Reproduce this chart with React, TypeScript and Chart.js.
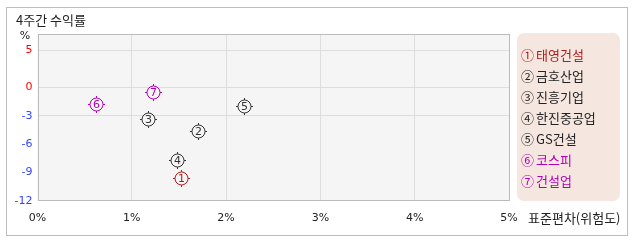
import React, { useEffect, useRef } from "react";
import { Chart, registerables } from "chart.js";

Chart.register(...registerables);

const title = "4주간 수익률";
const xAxisTitle = "표준편차(위험도)";
const names = ["태영건설", "금호산업", "진흥기업", "한진중공업", "GS건설", "코스피", "건설업"];
const marks = ["①", "②", "③", "④", "⑤", "⑥", "⑦"];
const numbers = ["1", "2", "3", "4", "5", "6", "7"];
const riskStdDev = [1.52, 1.7, 1.17, 1.48, 2.19, 0.62, 1.23];
const returns4w = [-9.6, -4.6, -3.3, -7.7, -2.0, -1.8, -0.45];
const xTickValues = [0, 1, 2, 3, 4, 5];
const xTickLabels = ["0%", "1%", "2%", "3%", "4%", "5%"];
const yTickValues = [5, 0, -3, -6, -9, -12];
const yTickLabels = ["5", "0", "-3", "-6", "-9", "-12"];
const yGridValues = [5, 0, -3];

const markColors = ["#b01c1c", "#333333", "#333333", "#333333", "#333333", "#b000b8", "#b000b8"];
const legendColors = ["#b01c1c", "#222222", "#222222", "#222222", "#222222", "#b000b8", "#b000b8"];
// the positive part of the original value axis is drawn compressed
const POS_SCALE = 0.785;
const mapY = (v: number) => (v > 0 ? v * POS_SCALE : v);

const FONT = '"DejaVu Sans", "Noto Sans CJK KR", sans-serif';
const KFONT = '"Noto Sans CJK KR", sans-serif';

const markerPlugin = {
  id: "markerPlugin",
  afterDatasetsDraw(chart: any) {
    const { ctx } = chart;
    const meta = chart.getDatasetMeta(0);
    ctx.save();
    meta.data.forEach((pt: any, i: number) => {
      const cx = Math.round(pt.x) + 0.5;
      const cy = Math.round(pt.y) + 0.5;
      const col = markColors[i];
      ctx.strokeStyle = col;
      ctx.lineWidth = 1;
      ctx.beginPath();
      ctx.arc(cx, cy, 6.5, 0, Math.PI * 2);
      ctx.stroke();
      ctx.beginPath();
      ctx.moveTo(cx, cy - 8.5); ctx.lineTo(cx, cy - 6.5);
      ctx.moveTo(cx, cy + 6.5); ctx.lineTo(cx, cy + 8.5);
      ctx.moveTo(cx - 8.5, cy); ctx.lineTo(cx - 6.5, cy);
      ctx.moveTo(cx + 6.5, cy); ctx.lineTo(cx + 8.5, cy);
      ctx.stroke();
      ctx.fillStyle = col;
      ctx.font = "11px " + FONT;
      ctx.textAlign = "center";
      ctx.textBaseline = "middle";
      ctx.fillText(numbers[i], cx, cy + 0.5);
    });
    ctx.restore();
  },
};

const framePlugin = {
  id: "framePlugin",
  beforeDraw(chart: any) {
    const { ctx, chartArea: a } = chart;
    ctx.save();
    ctx.fillStyle = "#ffffff";
    ctx.fillRect(0, 0, chart.width, chart.height);
    ctx.strokeStyle = "#bdbdbd";
    ctx.lineWidth = 1;
    ctx.strokeRect(6.5, 7.5, 621, 228);
    ctx.fillStyle = "#f5f5f5";
    ctx.fillRect(a.left, a.top, a.right - a.left, a.bottom - a.top);
    ctx.fillStyle = "#222";
    ctx.font = "13px " + KFONT;
    ctx.textBaseline = "middle";
    ctx.textAlign = "left";
    ctx.fillText(title, 16, 20);
    ctx.font = "11px " + FONT;
    ctx.fillStyle = "#222";
    ctx.textAlign = "center";
    ctx.fillText("%", 25, 36.5);
    ctx.restore();
  },
  afterDraw(chart: any) {
    const { ctx, chartArea: a } = chart;
    ctx.save();
    ctx.strokeStyle = "#bbbbbb";
    ctx.lineWidth = 1;
    ctx.strokeRect(Math.round(a.left) + 0.5, Math.round(a.top) + 0.5, Math.round(a.right - a.left) - 1, Math.round(a.bottom - a.top) - 1);
    ctx.fillStyle = "#222";
    ctx.font = "13px " + KFONT;
    ctx.textBaseline = "middle";
    ctx.textAlign = "left";
    ctx.fillText(xAxisTitle, 528, 218);
    const lx = 517, ly = 33, lw = 103, lh = 168, r = 7;
    ctx.fillStyle = "#f5e7e0";
    ctx.beginPath();
    ctx.moveTo(lx + r, ly);
    ctx.arcTo(lx + lw, ly, lx + lw, ly + lh, r);
    ctx.arcTo(lx + lw, ly + lh, lx, ly + lh, r);
    ctx.arcTo(lx, ly + lh, lx, ly, r);
    ctx.arcTo(lx, ly, lx + lw, ly, r);
    ctx.closePath();
    ctx.fill();
    names.forEach((n, i) => {
      const y = 55.5 + i * 21;
      ctx.fillStyle = legendColors[i];
      ctx.font = "13px " + KFONT;
      ctx.fillText(marks[i], 521, y);
      ctx.fillText(n, 536, y);
    });
    ctx.restore();
  },
};

export default function App() {
  const ref = useRef<HTMLCanvasElement>(null);
  useEffect(() => {
    const chart = new Chart(ref.current!, {
      type: "scatter",
      data: {
        datasets: [
          {
            data: riskStdDev.map((x, i) => ({ x, y: mapY(returns4w[i]) })),
            pointRadius: 0,
            pointHoverRadius: 0,
          } as any,
        ],
      },
      options: {
        animation: false,
        responsive: false,
        events: [],
        layout: { padding: { left: 0, top: 34, right: 129, bottom: 0 } },
        plugins: { legend: { display: false }, tooltip: { enabled: false } },
        scales: {
          x: {
            type: "linear",
            min: 0,
            max: 5,
            afterFit: (s: any) => { s.height = 41; },
            afterBuildTicks: (s: any) => { s.ticks = xTickValues.map((v) => ({ value: v })); },
            grid: {
              drawTicks: false,
              color: (c: any) => (c.tick && c.tick.value > 0 && c.tick.value < 5 ? "#dddddd" : "rgba(0,0,0,0)"),
            },
            border: { display: false },
            ticks: {
              padding: 11,
              color: "#222",
              font: { family: FONT, size: 11 },
              callback: (_v: any, i: number) => xTickLabels[i],
            },
          },
          y: {
            type: "linear",
            min: -12,
            max: 5.62,
            afterFit: (s: any) => { s.width = 37.5; },
            afterBuildTicks: (s: any) => { s.ticks = yTickValues.map((v) => ({ value: mapY(v) })); },
            grid: {
              drawTicks: false,
              color: (c: any) =>
                c.tick && yGridValues.map(mapY).some((g) => Math.abs(g - c.tick.value) < 1e-6) ? "#dddddd" : "rgba(0,0,0,0)",
            },
            border: { display: false },
            ticks: {
              padding: 5,
              font: { family: FONT, size: 11 },
              color: (c: any) => (yTickValues[c.index] >= 0 ? "#ff0000" : "#3344ff"),
              callback: (_v: any, i: number) => yTickLabels[i],
            },
          },
        },
      },
      plugins: [framePlugin, markerPlugin],
    });
    return () => chart.destroy();
  }, []);
  return (
    <div style={{ position: "absolute", left: 0, top: 0, width: 638, height: 242 }}>
      <canvas ref={ref} width={638} height={242} style={{ width: 638, height: 242 }} />
    </div>
  );
}
